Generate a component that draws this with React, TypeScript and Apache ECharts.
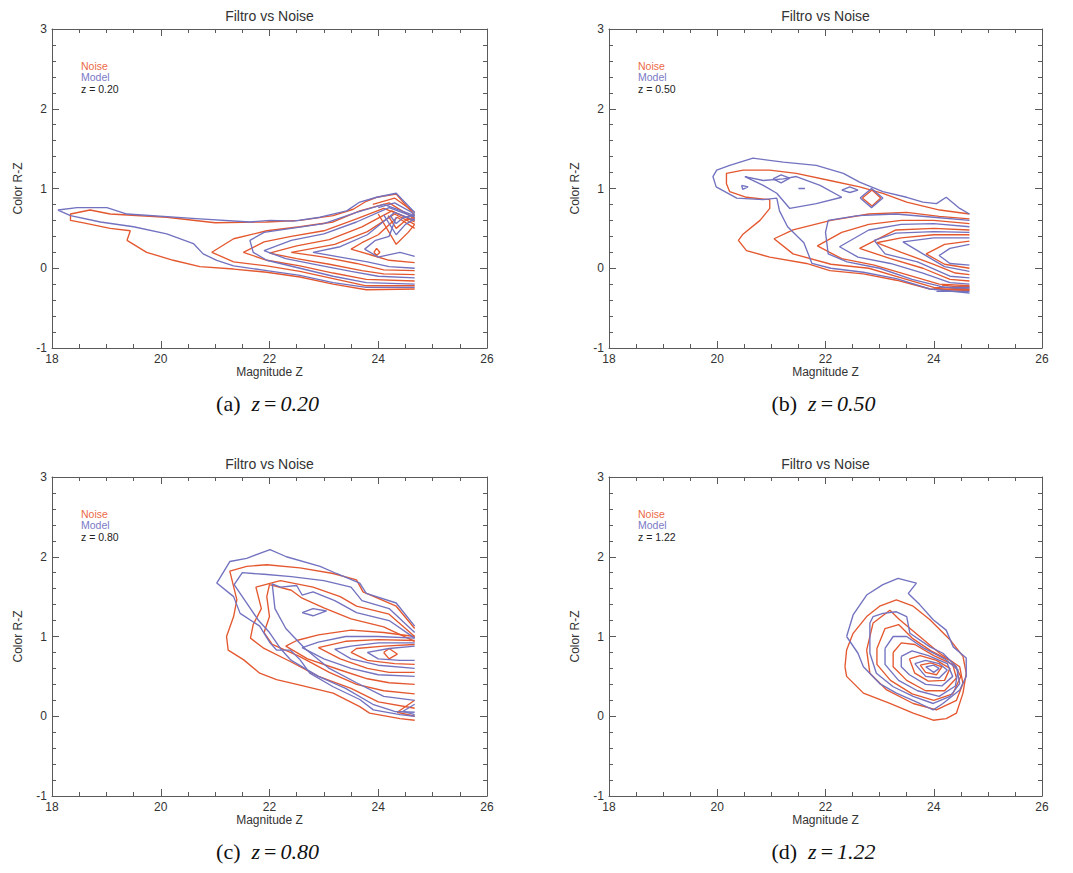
import React, { useEffect, useRef } from "react";
import * as echarts from "echarts";

type Line = number[][];

// ---------- axis / text content ----------
const xMin = 18, xMax = 26, xStep = 2;
const yMin = -1, yMax = 3, yStep = 1;
const xName = "Magnitude Z";
const yName = "Color R-Z";
const panelTitle = "Filtro vs Noise";
const legendNames = ["Noise", "Model"];
const zValues = ["0.20", "0.50", "0.80", "1.22"];
const letters = ["a", "b", "c", "d"];

// ---------- contour data (Magnitude Z, Color R-Z) ----------
const noiseA: Line[] = [
  [[24.67,0.66],[24.33,0.93],[23.97,0.89],[23.78,0.84],[23.54,0.74],[23.17,0.66],[22.56,0.60],[21.95,0.58],[21.0,0.57],[20.11,0.64],[19.07,0.68],[18.70,0.73],[18.34,0.68],[18.34,0.60],[18.58,0.57],[19.07,0.50],[19.44,0.47],[19.38,0.35],[19.74,0.20],[20.23,0.10],[20.72,0.02],[21.34,-0.01],[21.95,-0.05],[22.56,-0.11],[23.17,-0.20],[23.78,-0.27],[24.67,-0.26]],
  [[24.67,0.62],[24.2,0.82],[23.66,0.72],[23.17,0.58],[22.56,0.52],[21.95,0.47],[21.34,0.37],[20.94,0.20],[21.34,0.08],[21.95,0.03],[22.56,-0.04],[23.17,-0.13],[23.78,-0.22],[24.67,-0.22]],
  [[24.67,0.60],[24.1,0.75],[23.6,0.62],[23.0,0.47],[22.4,0.40],[21.9,0.33],[21.52,0.20],[21.95,0.10],[22.56,0.03],[23.17,-0.06],[23.78,-0.14],[24.67,-0.16]],
  [[24.67,0.58],[24.25,0.72],[23.7,0.52],[23.1,0.36],[22.5,0.28],[22.0,0.19],[22.5,0.12],[23.1,0.05],[23.7,-0.03],[24.1,-0.07],[24.67,-0.08]],
  [[24.67,0.55],[24.3,0.68],[23.8,0.46],[23.2,0.30],[22.4,0.20],[23.0,0.14],[23.6,0.06],[24.1,-0.02],[24.67,-0.03]],
  [[24.67,0.50],[24.35,0.64],[24.0,0.42],[23.7,0.32],[23.5,0.24],[23.9,0.16],[24.2,0.10],[24.67,0.07]],
  [[24.0,0.68],[24.33,0.30],[24.55,0.45],[24.67,0.55]],
  [[24.18,0.66],[24.33,0.50],[24.5,0.60],[24.67,0.64]],
  [[23.92,0.20],[23.97,0.25],[24.03,0.20],[23.97,0.16],[23.92,0.20]],
  [[23.9,0.80],[24.3,0.88],[24.67,0.70]],
];
const modelA: Line[] = [
  [[24.67,0.70],[24.33,0.94],[23.97,0.89],[23.66,0.83],[23.42,0.72],[22.93,0.64],[22.44,0.59],[22.01,0.60],[21.64,0.58],[20.72,0.62],[19.38,0.68],[19.01,0.76],[18.46,0.76],[18.11,0.73],[18.34,0.66],[18.89,0.58],[19.50,0.52],[20.11,0.43],[20.60,0.31],[20.78,0.18],[21.03,0.10],[21.34,0.03],[21.95,-0.03],[22.56,-0.09],[23.17,-0.18],[23.78,-0.24],[24.67,-0.24]],
  [[24.67,0.66],[24.1,0.80],[23.6,0.70],[23.0,0.56],[22.4,0.50],[21.9,0.45],[21.64,0.35],[21.70,0.20],[21.95,0.10],[22.56,0.0],[23.17,-0.10],[23.78,-0.18],[24.67,-0.20]],
  [[24.67,0.64],[24.2,0.76],[23.6,0.58],[23.0,0.43],[22.4,0.35],[21.9,0.22],[22.3,0.12],[22.9,0.04],[23.5,-0.04],[24.0,-0.10],[24.67,-0.12]],
  [[24.67,0.60],[24.3,0.70],[23.8,0.42],[23.3,0.27],[22.8,0.20],[23.3,0.14],[23.8,0.08],[24.2,0.02],[24.67,0.0]],
  [[24.33,0.64],[24.2,0.40],[23.95,0.35],[23.75,0.24],[24.0,0.14],[24.4,0.20],[24.67,0.15]],
  [[24.1,0.67],[24.33,0.42],[24.5,0.55],[24.67,0.62]],
  [[24.22,0.66],[24.33,0.56],[24.45,0.63],[24.67,0.67]],
  [[24.0,0.76],[24.3,0.82],[24.67,0.68]],
];

const noiseB: Line[] = [
  [[24.66,0.68],[24.11,0.73],[23.5,0.83],[23.06,0.94],[22.63,1.02],[22.08,1.10],[21.46,1.19],[20.97,1.23],[20.48,1.23],[20.17,1.19],[20.17,1.06],[20.23,0.96],[20.54,0.89],[20.97,0.86],[20.97,0.75],[20.79,0.60],[20.48,0.43],[20.39,0.35],[20.54,0.22],[20.97,0.14],[21.65,0.06],[22.08,-0.03],[22.70,-0.07],[23.31,-0.15],[23.93,-0.26],[24.66,-0.28]],
  [[24.66,0.62],[24.1,0.65],[23.5,0.70],[22.8,0.68],[22.1,0.60],[21.4,0.48],[21.05,0.37],[21.4,0.18],[22.1,0.05],[22.8,0.0],[23.4,-0.12],[24.0,-0.24],[24.66,-0.26]],
  [[24.66,0.56],[24.0,0.60],[23.4,0.60],[22.8,0.55],[22.3,0.45],[21.85,0.28],[22.3,0.12],[22.9,0.04],[23.5,-0.08],[24.1,-0.20],[24.66,-0.22]],
  [[24.66,0.48],[24.0,0.50],[23.3,0.48],[22.63,0.25],[23.2,0.12],[23.8,0.0],[24.3,-0.14],[24.66,-0.16]],
  [[24.66,0.42],[24.0,0.42],[23.4,0.38],[22.94,0.32],[23.4,0.20],[24.0,0.05],[24.4,-0.06],[24.66,-0.08]],
  [[24.66,0.34],[24.2,0.30],[23.86,0.18],[24.2,0.05],[24.66,0.0]],
  [[22.68,0.88],[22.86,0.98],[23.02,0.88],[22.86,0.78],[22.68,0.88]],
  [[24.0,-0.25],[24.3,-0.27],[24.66,-0.27]],
  [[24.15,-0.21],[24.4,-0.23],[24.66,-0.23]],
];
const modelB: Line[] = [
  [[24.66,0.68],[24.48,0.75],[24.23,0.89],[24.05,0.81],[23.80,0.83],[23.50,0.89],[23.06,0.96],[22.63,1.08],[22.33,1.19],[21.83,1.29],[21.22,1.33],[20.66,1.38],[20.23,1.29],[19.99,1.23],[19.92,1.15],[19.98,1.02],[20.36,0.88],[20.85,0.86],[21.1,0.88],[21.15,0.72],[21.3,0.52],[21.6,0.32],[21.75,0.06],[22.1,0.0],[22.7,-0.05],[23.31,-0.13],[23.93,-0.26],[24.66,-0.31]],
  [[20.51,1.15],[20.85,1.10],[21.22,1.12],[21.46,1.15],[21.9,1.04],[22.3,0.89],[21.83,0.81],[21.34,0.75],[21.1,0.94],[20.85,1.04],[20.51,1.15]],
  [[24.66,0.60],[24.0,0.64],[23.3,0.68],[22.6,0.66],[22.05,0.60],[22.0,0.45],[22.05,0.18],[22.4,0.08],[23.0,0.0],[23.6,-0.14],[24.2,-0.24],[24.66,-0.24]],
  [[24.66,0.52],[24.0,0.56],[23.4,0.55],[22.8,0.48],[22.26,0.27],[22.6,0.14],[23.2,0.06],[23.8,-0.06],[24.3,-0.18],[24.66,-0.20]],
  [[24.66,0.45],[24.0,0.46],[23.3,0.44],[22.9,0.35],[23.1,0.18],[23.7,0.08],[24.3,-0.10],[24.66,-0.12]],
  [[24.66,0.38],[24.0,0.38],[23.43,0.33],[23.8,0.18],[24.2,0.02],[24.66,-0.04]],
  [[24.66,0.30],[24.3,0.25],[24.1,0.16],[24.3,0.06],[24.66,0.04]],
  [[22.64,0.88],[22.85,1.0],[23.06,0.88],[22.85,0.76],[22.64,0.88]],
  [[22.3,0.98],[22.45,1.02],[22.6,0.98],[22.45,0.95],[22.3,0.98]],
  [[21.03,1.12],[21.18,1.17],[21.34,1.13],[21.18,1.07],[21.03,1.12]],
  [[20.45,1.04],[20.57,1.02],[20.47,0.99],[20.45,1.04]],
  [[21.5,1.0],[21.62,1.0]],
  [[24.05,-0.29],[24.35,-0.29],[24.66,-0.29]],
  [[24.1,-0.23],[24.4,-0.25],[24.66,-0.25]],
];

const noiseC: Line[] = [
  [[24.67,1.10],[24.33,1.38],[23.72,1.56],[23.60,1.71],[23.17,1.79],[22.56,1.86],[21.95,1.90],[21.58,1.88],[21.27,1.82],[21.40,1.46],[21.34,1.25],[21.21,1.00],[21.24,0.83],[21.52,0.71],[21.82,0.54],[22.13,0.46],[22.56,0.39],[23.17,0.29],[23.66,0.12],[23.84,0.04],[24.40,-0.03],[24.67,-0.05]],
  [[24.67,1.0],[24.2,1.28],[23.6,1.38],[23.3,1.5],[22.8,1.62],[22.2,1.70],[21.75,1.62],[21.85,1.35],[21.7,1.15],[21.65,0.98],[21.9,0.85],[22.4,0.68],[22.9,0.5],[23.5,0.35],[24.0,0.18],[24.67,0.10]],
  [[24.67,0.94],[24.1,1.12],[23.5,1.22],[23.0,1.36],[22.6,1.48],[22.4,1.58],[22.0,1.65],[21.95,1.50],[22.0,1.25],[21.9,1.05],[22.05,0.90],[22.55,0.75],[23.1,0.55],[23.6,0.40],[24.1,0.32],[24.67,0.28]],
  [[24.67,1.0],[24.1,1.05],[23.5,1.08],[22.9,1.02],[22.5,0.95],[22.3,0.88],[22.7,0.72],[23.3,0.58],[23.8,0.47],[24.2,0.42],[24.67,0.40]],
  [[24.67,0.95],[24.0,0.96],[23.4,0.94],[22.9,0.86],[23.3,0.72],[23.8,0.60],[24.2,0.55],[24.67,0.55]],
  [[24.67,0.90],[24.1,0.88],[23.6,0.85],[23.5,0.80],[23.8,0.70],[24.3,0.66],[24.67,0.65]],
  [[24.1,0.80],[24.2,0.72],[24.35,0.78],[24.2,0.85],[24.1,0.80]],
  [[24.67,0.20],[24.35,0.05],[24.67,0.0]],
];
const modelC: Line[] = [
  [[24.67,1.13],[24.33,1.42],[23.78,1.54],[23.66,1.67],[23.23,1.79],[22.93,1.88],[22.31,2.0],[22.01,2.09],[21.58,1.98],[21.27,1.94],[21.03,1.67],[21.34,1.50],[21.46,1.29],[21.82,1.13],[22.01,0.92],[22.13,0.83],[22.38,0.83],[22.56,0.71],[22.74,0.54],[23.17,0.37],[23.66,0.21],[23.91,0.08],[24.40,0.02],[24.67,0.0]],
  [[24.67,1.05],[24.2,1.35],[23.7,1.45],[23.5,1.62],[23.0,1.70],[22.4,1.75],[21.9,1.78],[21.5,1.80],[21.35,1.65],[21.55,1.45],[21.8,1.20],[22.0,1.05],[22.2,0.85],[22.4,0.70],[22.9,0.50],[23.4,0.35],[23.9,0.15],[24.3,0.06],[24.67,0.05]],
  [[24.67,0.98],[24.2,1.2],[23.6,1.3],[23.2,1.45],[22.8,1.56],[22.6,1.52],[22.5,1.64],[22.2,1.62],[22.05,1.66],[22.1,1.35],[22.3,1.1],[22.65,0.85],[23.1,0.6],[23.6,0.42],[24.1,0.25],[24.67,0.20]],
  [[24.67,0.98],[24.0,1.0],[23.4,1.0],[22.9,0.93],[22.6,0.86],[23.0,0.72],[23.5,0.60],[24.0,0.52],[24.67,0.50]],
  [[24.67,0.92],[24.0,0.92],[23.5,0.88],[23.2,0.84],[23.5,0.72],[24.0,0.64],[24.67,0.60]],
  [[24.67,0.88],[24.2,0.85],[23.8,0.80],[24.0,0.72],[24.4,0.70],[24.67,0.70]],
  [[22.6,1.30],[22.8,1.35],[23.05,1.32],[22.8,1.26],[22.6,1.30]],
  [[24.67,0.15],[24.45,0.06],[24.67,0.02]],
];

const noiseD: Line[] = [
  [[22.36,0.62],[22.39,0.83],[22.51,1.04],[22.76,1.25],[23.0,1.38],[23.31,1.46],[23.62,1.38],[23.93,1.21],[24.30,0.96],[24.54,0.75],[24.60,0.54],[24.54,0.29],[24.42,0.04],[24.23,-0.03],[23.99,-0.05],[23.62,0.04],[23.19,0.16],[22.70,0.29],[22.39,0.50],[22.36,0.62]],
  [[22.76,0.83],[22.88,1.17],[23.19,1.33],[23.37,1.21],[23.74,1.0],[24.11,0.79],[24.48,0.62],[24.54,0.41],[24.42,0.20],[24.05,0.08],[23.62,0.16],[23.13,0.33],[22.82,0.54],[22.76,0.83]],
  [[22.95,0.85],[23.1,1.1],[23.35,1.15],[23.6,0.98],[23.95,0.82],[24.35,0.68],[24.5,0.50],[24.35,0.28],[24.0,0.20],[23.6,0.28],[23.2,0.45],[22.95,0.65],[22.95,0.85]],
  [[23.25,0.80],[23.4,0.92],[23.65,0.90],[24.0,0.76],[24.35,0.65],[24.42,0.48],[24.2,0.32],[23.85,0.32],[23.5,0.45],[23.25,0.62],[23.25,0.80]],
  [[23.55,0.72],[23.75,0.76],[24.05,0.70],[24.3,0.60],[24.2,0.45],[23.9,0.44],[23.65,0.54],[23.55,0.72]],
  [[23.75,0.64],[23.95,0.67],[24.15,0.62],[24.05,0.52],[23.85,0.55],[23.75,0.64]],
];
const modelD: Line[] = [
  [[22.39,1.0],[22.51,1.27],[22.76,1.52],[23.06,1.65],[23.34,1.73],[23.68,1.67],[23.53,1.54],[23.74,1.40],[23.99,1.21],[24.23,1.08],[24.36,0.87],[24.60,0.73],[24.60,0.50],[24.48,0.33],[24.17,0.16],[23.99,0.08],[23.74,0.16],[23.31,0.29],[23.0,0.41],[22.70,0.62],[22.60,0.79],[22.39,1.0]],
  [[22.82,1.17],[22.88,1.25],[23.06,1.29],[23.31,1.31],[23.50,1.25],[23.56,1.04],[23.93,0.87],[24.17,0.79],[24.42,0.62],[24.48,0.41],[24.30,0.25],[23.99,0.16],[23.62,0.25],[23.25,0.37],[22.94,0.54],[22.82,0.79],[22.82,1.17]],
  [[23.1,0.85],[23.25,1.0],[23.5,1.0],[23.8,0.86],[24.2,0.72],[24.45,0.58],[24.4,0.38],[24.1,0.25],[23.7,0.32],[23.35,0.45],[23.1,0.65],[23.1,0.85]],
  [[23.4,0.75],[23.6,0.82],[23.9,0.76],[24.25,0.66],[24.35,0.50],[24.15,0.38],[23.85,0.40],[23.55,0.52],[23.4,0.62],[23.4,0.75]],
  [[23.65,0.66],[23.85,0.70],[24.1,0.66],[24.25,0.58],[24.1,0.48],[23.85,0.50],[23.65,0.66]],
  [[23.85,0.62],[24.0,0.64],[24.1,0.60],[24.0,0.55],[23.85,0.62]],
];

const noisePanels: Line[][] = [noiseA, noiseB, noiseC, noiseD];
const modelPanels: Line[][] = [modelA, modelB, modelC, modelD];

// ---------- styling / layout ----------
const RED = "#e4582f";
const BLUE = "#7272c0";
const AX = "#5a5a5a";
const SANS = "'Liberation Sans', Arial, sans-serif";
const SERIF = "'Liberation Serif', 'Times New Roman', serif";
const grids = [
  { left: 52, top: 29, width: 435, height: 319 },
  { left: 609, top: 29, width: 433, height: 319 },
  { left: 52, top: 477, width: 435, height: 319 },
  { left: 609, top: 477, width: 433, height: 319 },
];

function buildOption() {
  const xAxis: any[] = [];
  const yAxis: any[] = [];
  const series: any[] = [];
  const graphic: any[] = [];
  const tickCommon = {
    axisLine: { show: true, onZero: false, lineStyle: { color: AX, width: 1 } },
    axisTick: { show: true, inside: true, length: 7, lineStyle: { color: AX } },
    splitLine: { show: false },
  };
  grids.forEach((g, i) => {
    xAxis.push({
      gridIndex: i, type: "value", min: xMin, max: xMax, interval: xStep, position: "bottom",
      ...tickCommon,
      minorTick: { show: true, splitNumber: 4, length: 4, lineStyle: { color: AX } },
      axisLabel: { color: "#333", fontSize: 12, margin: 5, fontFamily: SANS },
      name: xName, nameLocation: "middle", nameGap: 18,
      nameTextStyle: { color: "#333", fontSize: 12, fontFamily: SANS },
    });
    xAxis.push({
      gridIndex: i, type: "value", min: xMin, max: xMax, interval: xStep, position: "top",
      ...tickCommon,
      minorTick: { show: true, splitNumber: 4, length: 4, lineStyle: { color: AX } },
      axisLabel: { show: false },
    });
    yAxis.push({
      gridIndex: i, type: "value", min: yMin, max: yMax, interval: yStep, position: "left",
      ...tickCommon,
      minorTick: { show: true, splitNumber: 5, length: 4, lineStyle: { color: AX } },
      axisLabel: { color: "#333", fontSize: 12, margin: 5, fontFamily: SANS },
      name: yName, nameLocation: "middle", nameGap: 28, nameRotate: 90,
      nameTextStyle: { color: "#333", fontSize: 12, fontFamily: SANS },
    });
    yAxis.push({
      gridIndex: i, type: "value", min: yMin, max: yMax, interval: yStep, position: "right",
      ...tickCommon,
      minorTick: { show: true, splitNumber: 5, length: 4, lineStyle: { color: AX } },
      axisLabel: { show: false },
    });
    const mk = (line: Line, color: string) => ({
      type: "line", xAxisIndex: 2 * i, yAxisIndex: 2 * i, data: line,
      showSymbol: false, symbol: "none", silent: true,
      lineStyle: { color, width: 1.35 }, emphasis: { disabled: true },
    });
    noisePanels[i].forEach((l) => series.push(mk(l, RED)));
    modelPanels[i].forEach((l) => series.push(mk(l, BLUE)));

    const cx = g.left + g.width / 2;
    graphic.push({
      type: "text", x: cx, y: g.top - 13,
      style: { text: panelTitle, fill: "#333", fontSize: 14, fontFamily: SANS, align: "center", verticalAlign: "middle", textAlign: "center", textVerticalAlign: "middle" },
    });
    const lx = g.left + 29;
    const legendItems = [
      { t: legendNames[0], c: "#ec6a48" },
      { t: legendNames[1], c: "#7a7ac6" },
      { t: "z = " + zValues[i], c: "#222" },
    ];
    legendItems.forEach((it, k) => {
      graphic.push({
        type: "text", x: lx, y: g.top + 37 + k * 11.3,
        style: { text: it.t, fill: it.c, fontSize: 10.5, fontFamily: SANS, align: "left", verticalAlign: "middle", textAlign: "left", textVerticalAlign: "middle" },
      });
    });
    graphic.push({
      type: "text", x: cx - 2, y: g.top + g.height + 55,
      style: {
        text: "{p|(" + letters[i] + ")}  {i|z}{e|=}{i|" + zValues[i] + "}",
        align: "center", verticalAlign: "middle", textAlign: "center", textVerticalAlign: "middle",
        fontSize: 22, fontFamily: SERIF, fill: "#111",
        rich: {
          p: { fontSize: 22, fontFamily: SERIF, fill: "#111", color: "#111" },
          i: { fontSize: 22, fontFamily: SERIF, fontStyle: "italic", fill: "#111", color: "#111" },
          e: { fontSize: 22, fontFamily: SERIF, fill: "#111", color: "#111", padding: [0, 4, 0, 4] },
        },
      },
    });
  });
  return {
    animation: false,
    backgroundColor: "#ffffff",
    grid: grids.map((g) => ({ ...g, containLabel: false })),
    xAxis, yAxis, series, graphic,
  };
}

export default function App() {
  const ref = useRef<HTMLDivElement>(null);
  useEffect(() => {
    document.body.style.margin = "0";
    if (!ref.current) return;
    const chart = echarts.init(ref.current, undefined, { renderer: "svg" });
    chart.setOption(buildOption() as any);
    return () => chart.dispose();
  }, []);
  return <div ref={ref} style={{ width: 1073, height: 873, background: "#fff" }} />;
}
